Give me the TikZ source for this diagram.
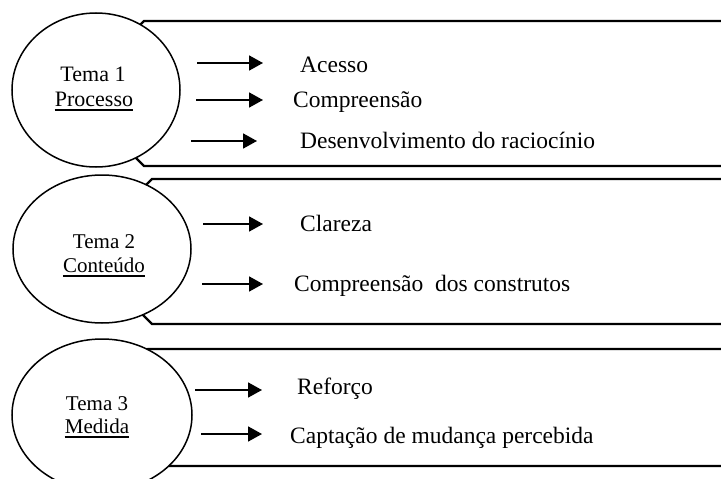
\documentclass[tikz,border=0pt]{standalone}
\usepackage{fontspec}
\setmainfont{Liberation Serif}
\usetikzlibrary{arrows.meta,shapes.geometric}
\begin{document}
\begin{tikzpicture}[x=1pt,y=-1pt,
  boxline/.style={line width=2.2pt},
  tema/.style={ellipse,draw,line width=1.5pt,fill=white,inner sep=0},
  lbl/.style={anchor=base,inner sep=0,font=\fontsize{22}{25}\selectfont},
  ulbl/.style={line width=1.1pt},
  item/.style={anchor=base west,inner sep=0,font=\fontsize{23.5}{28}\selectfont},
  arr/.style={line width=1.7pt,-{Triangle[length=14pt,width=15pt]}}]
\useasboundingbox (0,0) rectangle (721,479);
\clip (0,0) rectangle (721,479);
% boxes (left edges hidden behind the ellipses)
\draw[boxline] (730,21) -- (144,21) -- (124,41) -- (124,146) -- (144,166) -- (730,166);
\draw[boxline] (730,179) -- (152,179) -- (132,199) -- (132,304) -- (152,324) -- (730,324);
\draw[boxline] (730,349) -- (148,349) -- (128,369) -- (128,446) -- (148,466) -- (730,466);
% ellipses
\node[tema,minimum width=168pt,minimum height=154pt] (e1) at (96,90) {};
\node[tema,minimum width=178pt,minimum height=148pt] (e2) at (102,249) {};
\node[tema,minimum width=180pt,minimum height=152pt] (e3) at (102,415) {};
% labels
\node[lbl] (t1a) at (93,81) {Tema 1};
\node[lbl] (t1b) at (94,106) {Processo};
\draw[ulbl] ([yshift=-4pt]t1b.base west) -- ([yshift=-4pt]t1b.base east);
\node[lbl,font=\fontsize{21}{24}\selectfont] (t2a) at (104,248) {Tema 2};
\node[lbl,font=\fontsize{21}{24}\selectfont] (t2b) at (104,272) {Conteúdo};
\draw[ulbl] ([yshift=-4pt]t2b.base west) -- ([yshift=-4pt]t2b.base east);
\node[lbl,font=\fontsize{21}{24}\selectfont] (t3a) at (97,410) {Tema 3};
\node[lbl,font=\fontsize{21}{24}\selectfont] (t3b) at (97,433) {Medida};
\draw[ulbl] ([yshift=-4pt]t3b.base west) -- ([yshift=-4pt]t3b.base east);
% items
\node[item] (i11) at (300,72) {Acesso};
\node[item] (i12) at (293,107) {Compreensão};
\node[item] (i13) at (300,148) {Desenvolvimento do raciocínio};
\node[item] (i21) at (300,231) {Clareza};
\node[item] (i22) at (294,291) {Compreensão~ dos construtos};
\node[item] (i31) at (297,394) {Reforço};
\node[item] (i32) at (290,443) {Captação de mudança percebida};
% arrows
\draw[arr] (197,63) coordinate (a11) -- (263,63) coordinate (b11);
\draw[arr] (196,100) coordinate (a12) -- (263,100) coordinate (b12);
\draw[arr] (191,141) coordinate (a13) -- (257,141) coordinate (b13);
\draw[arr] (203,224) coordinate (a21) -- (263,224) coordinate (b21);
\draw[arr] (202,284) coordinate (a22) -- (263,284) coordinate (b22);
\draw[arr] (195,390) coordinate (a31) -- (262,390) coordinate (b31);
\draw[arr] (201,434) coordinate (a32) -- (262,434) coordinate (b32);
\end{tikzpicture}
\end{document}
